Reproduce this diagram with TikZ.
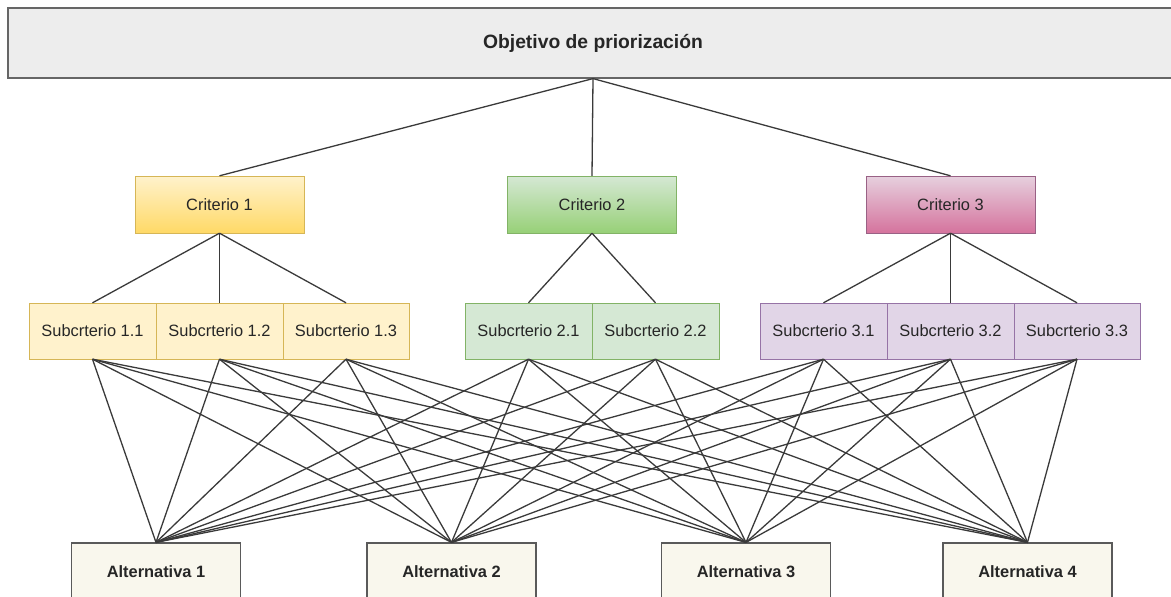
\documentclass[tikz,border=0pt]{standalone}
\usepackage{fontspec}
\setmainfont{Liberation Sans}
\begin{document}
\begin{tikzpicture}[x=1pt,y=-1pt,
  box/.style={draw, rectangle, inner sep=0pt, font=\fontsize{16.4}{19}\selectfont, text=black!85},
  crit/.style={box, minimum width=169pt, minimum height=57pt},
  sub/.style={box, minimum width=126.5pt, minimum height=56pt},
  alt/.style={box, minimum width=169pt, minimum height=57pt, fill=altfill, draw=altdraw, line width=1.2pt, font=\fontsize{16.4}{19}\selectfont\bfseries},
  link/.style={draw=linkc, line width=1.3pt}]
\definecolor{altfill}{HTML}{F9F7ED}
\definecolor{altdraw}{HTML}{5A5A5A}
\definecolor{linkc}{HTML}{3A3A3A}
\definecolor{ya}{HTML}{FFF2CC}\definecolor{yb}{HTML}{FFD966}\definecolor{yd}{HTML}{D6B656}
\definecolor{ga}{HTML}{D5E8D4}\definecolor{gb}{HTML}{97D077}\definecolor{gd}{HTML}{82B366}
\definecolor{pa}{HTML}{E6D0DE}\definecolor{pb}{HTML}{D5739D}\definecolor{pd}{HTML}{996185}
\definecolor{la}{HTML}{E1D5E7}\definecolor{ld}{HTML}{9673A6}
\useasboundingbox (0,0) rectangle (1171,597);
\clip (0,0) rectangle (1171,597);
% objective
\node[box, fill=black!7, draw=black!60, line width=1.2pt, minimum width=1170pt, minimum height=70pt,
  font=\fontsize{19.3}{22}\selectfont\bfseries] (obj) at (593,43) {Objetivo de priorización};
% criteria
\node[crit, top color=ya, bottom color=yb, draw=yd] (c1) at (219.5,204.5) {Criterio 1};
\node[crit, top color=ga, bottom color=gb, draw=gd] (c2) at (592,204.5) {Criterio 2};
\node[crit, top color=pa, bottom color=pb, draw=pd] (c3) at (950.5,204.5) {Criterio 3};
% subcriteria
\node[sub, fill=ya, draw=yd] (s11) at (92.5,331) {Subcrterio 1.1};
\node[sub, fill=ya, draw=yd] (s12) at (219.5,331) {Subcrterio 1.2};
\node[sub, fill=ya, draw=yd] (s13) at (346,331) {Subcrterio 1.3};
\node[sub, fill=ga, draw=gd] (s21) at (528.5,331) {Subcrterio 2.1};
\node[sub, fill=ga, draw=gd] (s22) at (655.5,331) {Subcrterio 2.2};
\node[sub, fill=la, draw=ld] (s31) at (823.5,331) {Subcrterio 3.1};
\node[sub, fill=la, draw=ld] (s32) at (950.5,331) {Subcrterio 3.2};
\node[sub, fill=la, draw=ld] (s33) at (1077,331) {Subcrterio 3.3};
% alternatives
\node[alt] (a1) at (156,571.5) {Alternativa 1};
\node[alt] (a2) at (451.5,571.5) {Alternativa 2};
\node[alt] (a3) at (746,571.5) {Alternativa 3};
\node[alt] (a4) at (1027.5,571.5) {Alternativa 4};
% links
\foreach \c in {c1,c2,c3} \draw[link] (obj.south) -- (\c.north);
\foreach \s in {s11,s12,s13} \draw[link] (c1.south) -- (\s.north);
\foreach \s in {s21,s22} \draw[link] (c2.south) -- (\s.north);
\foreach \s in {s31,s32,s33} \draw[link] (c3.south) -- (\s.north);
\foreach \s in {s11,s12,s13,s21,s22,s31,s32,s33}
  \foreach \a in {a1,a2,a3,a4}
    \draw[link] (\s.south) -- (\a.north);
\end{tikzpicture}
\end{document}
